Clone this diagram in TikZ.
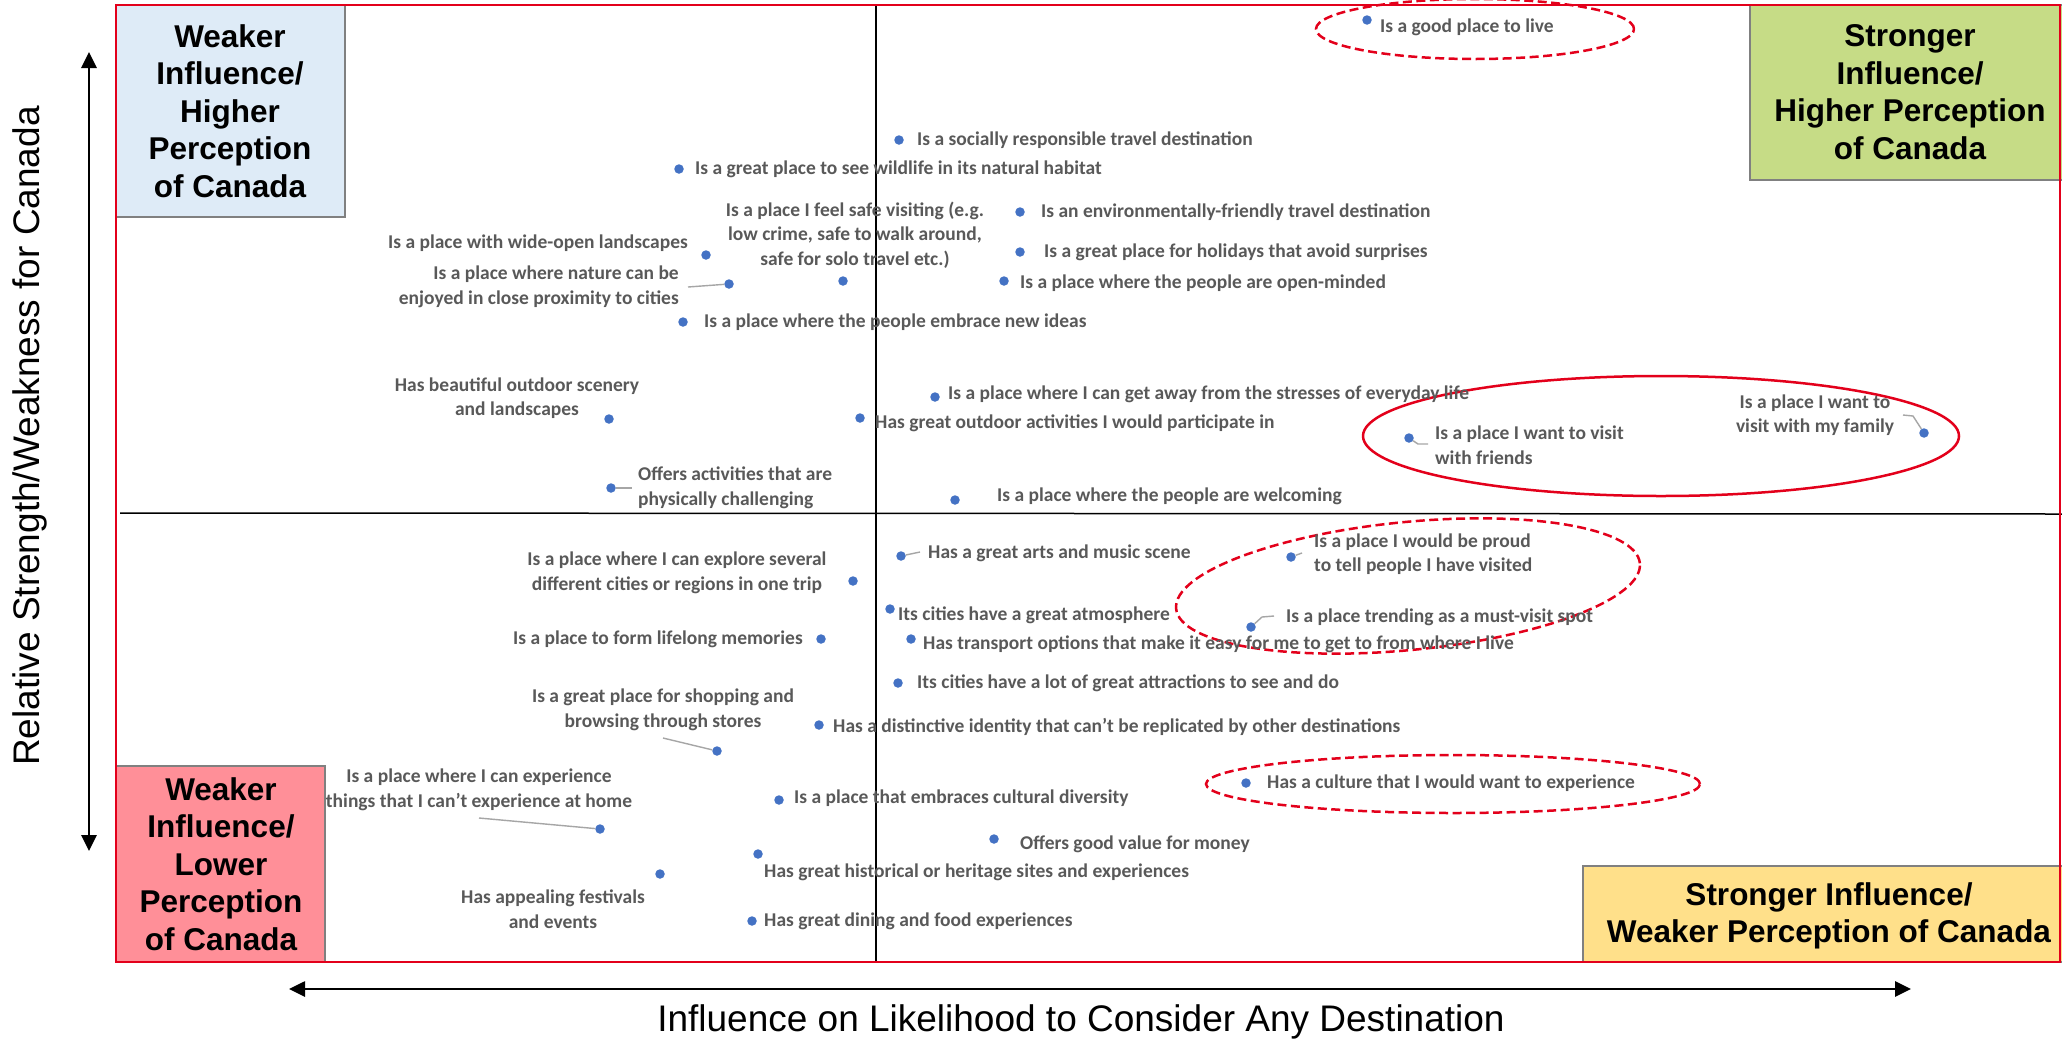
\documentclass[tikz,border=0pt]{standalone}
\usepackage{fontspec}
\setmainfont{Liberation Sans}
\newfontfamily\lblfont{Carlito}
\usetikzlibrary{arrows.meta,shapes.geometric}
\definecolor{dotblue}{HTML}{4472C4}
\definecolor{lblgray}{HTML}{595959}
\definecolor{frred}{HTML}{E3001B}
\definecolor{qblue}{HTML}{DEEBF7}
\definecolor{qgreen}{HTML}{C6DC86}
\definecolor{qpink}{HTML}{FF8F98}
\definecolor{qyellow}{HTML}{FFE08A}
\definecolor{leadgray}{HTML}{A6A6A6}
\begin{document}
\begin{tikzpicture}[x=1pt,y=-1pt,
  dot/.style={circle,fill=dotblue,inner sep=0pt,minimum size=9.5pt},
  lab/.style={font=\lblfont\bfseries\fontsize{19.5}{24.5}\selectfont,text=lblgray,inner sep=0pt,text height=15pt,text depth=4pt},
  labm/.style={font=\lblfont\bfseries\fontsize{19.5}{24.5}\selectfont,text=lblgray,inner sep=0pt},
  lead/.style={draw=leadgray,line width=1.4pt},
  qbox/.style={draw=gray,line width=1.8pt},
  qtext/.style={font=\bfseries\fontsize{31.5}{37.5}\selectfont,align=center,inner sep=0pt},
  axlabel/.style={font=\fontsize{37}{44}\selectfont,inner sep=0pt},
  axarrow/.style={line width=2.7pt,{Triangle[length=16pt,width=15pt]}-{Triangle[length=16pt,width=15pt]}},
  hilite/.style={ellipse,draw=frred,line width=2.5pt,inner sep=0pt},
  hidash/.style={hilite,dash pattern=on 9pt off 4.5pt},
]
\useasboundingbox (0,0) rectangle (2062,1042);
\fill[white] (0,0) rectangle (2062,1042);

% quadrant boxes
\draw[qbox,fill=qblue] (116,5) rectangle (345,217);
\draw[qbox,fill=qgreen] (1750,5) rectangle (2064,180);
\draw[qbox,fill=qpink] (116,766) rectangle (325,962);
\draw[qbox,fill=qyellow] (1583,866) rectangle (2064,962);

% quadrant lines
\coordinate (vtop) at (876,5);
\coordinate (vbot) at (876,962);
\coordinate (hleft) at (120,513);
\coordinate (hright) at (2062,514);
\draw[line width=1.5pt] (vtop) -- (vbot);
\draw[line width=1.5pt] (hleft) -- (hright);

% frame
\draw[frred,line width=2.6pt] (116,5) rectangle (2060,962);

% quadrant labels
\node[qtext] (qtl) at (230,111) {Weaker\\Influence/\\Higher\\Perception\\of Canada};
\node[qtext] (qtr) at (1910,92) {Stronger\\Influence/\\Higher Perception\\of Canada};
\node[qtext] (qbl) at (221,864) {Weaker\\Influence/\\Lower\\Perception\\of Canada};
\node[qtext] (qbr) at (1829,916) {Stronger Influence/\\Weaker Perception of Canada};

% axes
\coordinate (ytop) at (89,52);
\coordinate (ybot) at (89,851);
\coordinate (xleft) at (289,989);
\coordinate (xright) at (1911,989);
\draw[axarrow] (ybot) -- (ytop);
\draw[axarrow] (xleft) -- (xright);
\node[axlabel,rotate=90] (ylab) at (30,436) {Relative Strength/Weakness for Canada};
\node[axlabel] (xlab) at (1081,1022) {Influence on Likelihood to Consider Any Destination};

% highlight ellipses
\node[hidash,minimum width=318pt,minimum height=60pt] (e1) at (1475,29) {};
\node[hilite,minimum width=596pt,minimum height=120pt] (e2) at (1661,436) {};
\node[hidash,minimum width=466pt,minimum height=128pt,rotate=5.6] (e3) at (1408,586) {};
\node[hidash,minimum width=494pt,minimum height=58pt] (e4) at (1453,784) {};

% dots
\node[dot] (d1) at (1367,20) {};
\node[dot] (d2) at (899,140) {};
\node[dot] (d3) at (679,169) {};
\node[dot] (d4) at (843,281) {};
\node[dot] (d5) at (1020,212) {};
\node[dot] (d6) at (1020,252) {};
\node[dot] (d7) at (1004,281) {};
\node[dot] (d8) at (706,255) {};
\node[dot] (d9) at (729,284) {};
\node[dot] (d10) at (683,322) {};
\node[dot] (d11) at (609,419) {};
\node[dot] (d12) at (611,488) {};
\node[dot] (d13) at (935,397) {};
\node[dot] (d14) at (860,418) {};
\node[dot] (d15) at (955,500) {};
\node[dot] (d16) at (1409,438) {};
\node[dot] (d17) at (1924,433) {};
\node[dot] (d18) at (901,556) {};
\node[dot] (d19) at (853,581) {};
\node[dot] (d20) at (821,639) {};
\node[dot] (d21) at (890,609) {};
\node[dot] (d22) at (911,639) {};
\node[dot] (d23) at (898,683) {};
\node[dot] (d24) at (1291,557) {};
\node[dot] (d25) at (1251,627) {};
\node[dot] (d26) at (717,751) {};
\node[dot] (d27) at (819,725) {};
\node[dot] (d28) at (1246,783) {};
\node[dot] (d29) at (779,800) {};
\node[dot] (d30) at (600,829) {};
\node[dot] (d31) at (994,839) {};
\node[dot] (d32) at (758,854) {};
\node[dot] (d33) at (660,874) {};
\node[dot] (d34) at (752,921) {};

% labels
\node[lab,anchor=west] (l1) at (1380,27) {Is a good place to live};
\node[lab,anchor=west] (l2) at (917,140) {Is a socially responsible travel destination};
\node[lab,anchor=west] (l3) at (695,169) {Is a great place to see wildlife in its natural habitat};
\node[labm,align=center] (l4) at (855,235) {Is a place I feel safe visiting (e.g.\\low crime, safe to walk around,\\safe for solo travel etc.)};
\node[lab,anchor=west] (l5) at (1041,212) {Is an environmentally-friendly travel destination};
\node[lab,anchor=west] (l6) at (1044,252) {Is a great place for holidays that avoid surprises};
\node[lab,anchor=west] (l7) at (1020,283) {Is a place where the people are open-minded};
\node[lab,anchor=east] (l8) at (688,243) {Is a place with wide-open landscapes};
\node[labm,align=right,anchor=east] (l9) at (679,287) {Is a place where nature can be\\enjoyed in close proximity to cities};
\node[lab,anchor=west] (l10) at (704,322) {Is a place where the people embrace new ideas};
\node[labm,align=center] (l11) at (517,398) {Has beautiful outdoor scenery\\and landscapes};
\node[labm,align=left,anchor=west] (l12) at (638,488) {Offers activities that are\\physically challenging};
\node[lab,anchor=west] (l13) at (948,394) {Is a place where I can get away from the stresses of everyday life};
\node[lab,anchor=west] (l14) at (875,423) {Has great outdoor activities I would participate in};
\node[lab,anchor=west] (l15) at (997,496) {Is a place where the people are welcoming};
\node[labm,align=left,anchor=west] (l16) at (1435,445) {Is a place I want to visit\\with friends};
\node[labm,align=center] (l17) at (1815,415) {Is a place I want to\\visit with my family};
\node[lab,anchor=west] (l18) at (928,553) {Has a great arts and music scene};
\node[labm,align=center] (l19) at (677,573) {Is a place where I can explore several\\different cities or regions in one trip};
\node[lab,anchor=east] (l20) at (803,639) {Is a place to form lifelong memories};
\node[lab,anchor=west] (l21) at (898,615) {Its cities have a great atmosphere};
\node[lab,anchor=west] (l22) at (923,644) {Has transport options that make it easy for me to get to from where I live};
\node[lab,anchor=west] (l23) at (917,683) {Its cities have a lot of great attractions to see and do};
\node[labm,align=left,anchor=west] (l24) at (1314,554) {Is a place I would be proud\\to tell people I have visited};
\node[lab,anchor=west] (l25) at (1286,617) {Is a place trending as a must-visit spot};
\node[labm,align=center] (l26) at (663,710) {Is a great place for shopping and\\browsing through stores};
\node[lab,anchor=west] (l27) at (833,727) {Has a distinctive identity that can’t be replicated by other destinations};
\node[lab,anchor=west] (l28) at (1267,783) {Has a culture that I would want to experience};
\node[lab,anchor=west] (l29) at (794,798) {Is a place that embraces cultural diversity};
\node[labm,align=center] (l30) at (479,790) {Is a place where I can experience\\things that I can’t experience at home};
\node[lab,anchor=west] (l31) at (1020,844) {Offers good value for money};
\node[lab,anchor=west] (l32) at (764,872) {Has great historical or heritage sites and experiences};
\node[labm,align=center] (l33) at (553,909) {Has appealing festivals\\and events};
\node[lab,anchor=west] (l34) at (764,921) {Has great dining and food experiences};

% leader lines
\coordinate (c9) at (688,287);
\coordinate (c12) at (632,488);
\coordinate (c16a) at (1418,444);
\coordinate (c16b) at (1428,444);
\coordinate (c17a) at (1903,415);
\coordinate (c17b) at (1913,416);
\coordinate (c18) at (920,552);
\coordinate (c24) at (1302,553);
\coordinate (c25a) at (1262,617);
\coordinate (c25b) at (1274,616);
\coordinate (c26) at (663,738);
\coordinate (c30) at (479,818);
\draw[lead] (c9) -- (d9);
\draw[lead] (d12) -- (c12);
\draw[lead] (d16) -- (c16a) -- (c16b);
\draw[lead] (c17a) -- (c17b) -- (d17);
\draw[lead] (d18) -- (c18);
\draw[lead] (d24) -- (c24);
\draw[lead] (d25) -- (c25a) -- (c25b);
\draw[lead] (c26) -- (d26);
\draw[lead] (c30) -- (d30);
\end{tikzpicture}
\end{document}
